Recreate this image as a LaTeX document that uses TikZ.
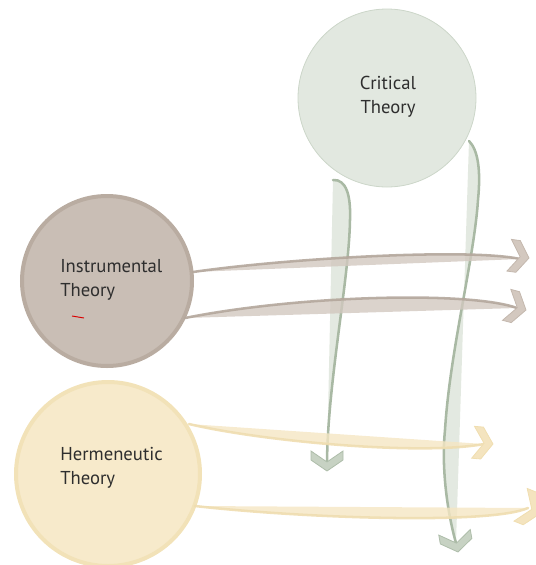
\documentclass[tikz,border=0pt]{standalone}
\usepackage{fontspec}
\setmainfont{PT Sans}
\definecolor{critfill}{HTML}{E2E8E0}
\definecolor{critedge}{HTML}{CCD6C9}
\definecolor{greenband}{HTML}{DCE4D9}
\definecolor{greenline}{HTML}{A9B9A4}
\definecolor{greenhead}{HTML}{C7D2C3}
\definecolor{greenheadedge}{HTML}{AEBDAA}
\definecolor{instfill}{HTML}{C9BEB5}
\definecolor{instedge}{HTML}{B9ACA1}
\definecolor{brownband}{HTML}{D2C8BF}
\definecolor{brownline}{HTML}{B4A79C}
\definecolor{brownhead}{HTML}{D3C8BF}
\definecolor{brownheadedge}{HTML}{C4B8AE}
\definecolor{hermfill}{HTML}{F7EACB}
\definecolor{hermedge}{HTML}{F2E2B8}
\definecolor{yellband}{HTML}{F5E6C3}
\definecolor{yellline}{HTML}{EFDDB0}
\definecolor{yellhead}{HTML}{F4E4BF}
\definecolor{yellheadedge}{HTML}{F0DEB0}
\definecolor{labeltext}{HTML}{2E2E2E}
\begin{document}
\begin{tikzpicture}[x=0.75pt,y=-0.75pt,
  theory/.style={circle,inner sep=0pt,outer sep=0pt},
  lbl/.style={inner sep=0pt,text=labeltext,font=\fontsize{14}{18}\selectfont},
  chev/.pic={\path[pic actions] (0,0) -- (-11,16) -- (-20,16) -- (-9,0) -- (-20,-16) -- (-11,-16) -- cycle;},
  greenchev/.style={fill=greenhead,draw=greenheadedge,line width=0.6pt},
  brownchev/.style={fill=brownhead,draw=brownheadedge,line width=0.6pt},
  yellchev/.style={fill=yellhead,draw=yellheadedge,line width=0.6pt},
  bandfill/.style={fill=#1,fill opacity=0.8},
  bandline/.style={draw=#1,line width=1.9pt,line cap=round},
]
\useasboundingbox (0,0) rectangle (536,565);
\clip (0,0) rectangle (536,565);

% the three theories
\node[theory,minimum size=178*0.75pt,fill=critfill,draw=critedge,line width=0.6pt] (crit) at (387,98) {};
\node[theory,minimum size=170*0.75pt,fill=instfill,draw=instedge,line width=3pt] (instr) at (107,281) {};
\node[theory,minimum size=184*0.75pt,fill=hermfill,draw=hermedge,line width=3pt] (herm) at (108,474) {};

% labels (anchored on the baseline of their last line)
\node[lbl,align=center,anchor=base] (crittxt) at (388,113) {Critical\\Theory};
\node[lbl,align=left,anchor=base west] (instrtxt) at (60,296) {Instrumental\\Theory};
\node[lbl,align=left,anchor=base west] (hermtxt) at (60,484) {Hermeneutic\\Theory};

% small red stroke inside the instrumental circle
\draw[red!85!black,line width=0.7pt] (72,316) -- (84,318);

% arrow ends
\coordinate (g1s) at (333,180);
\coordinate (g1t) at (327,462);
\coordinate (g2s) at (469,141);
\coordinate (g2t) at (456,543);
\coordinate (b1s) at (193,272);
\coordinate (b1t) at (520,259);
\coordinate (b2s) at (185,318);
\coordinate (b2t) at (517,308);
\coordinate (y1s) at (189,424);
\coordinate (y1t) at (484,444);
\coordinate (y2s) at (195,506);
\coordinate (y2t) at (528,508);

% ribbon outlines
\def\gonecurve{(g1s) .. controls (346,179) and (351,195) .. (350,220) .. controls (349,280) and (328,380) .. (g1t)}
\def\gtwocurve{(g2s) .. controls (478,150) and (481,170) .. (478,200) .. controls (474,260) and (450,350) .. (445,430) .. controls (441,470) and (448,515) .. (g2t)}
\def\bonecurve{(b1s) .. controls (290,258) and (470,248) .. (b1t)}
\def\btwocurve{(b2s) .. controls (300,295) and (470,291) .. (b2t)}
\def\yonecurve{(y1s) .. controls (260,441) and (420,456) .. (y1t)}
\def\ytwocurve{(y2s) .. controls (300,518) and (490,525) .. (y2t)}

% critical theory ribbons
\fill[bandfill=greenband] \gonecurve -- cycle;
\draw[bandline=greenline] \gonecurve;
\pic[greenchev,rotate=-90] at (327,471) {chev};
\fill[bandfill=greenband] \gtwocurve -- cycle;
\draw[bandline=greenline] \gtwocurve;
\pic[greenchev,rotate=-80] at (458,552) {chev};

% instrumental theory ribbons
\fill[bandfill=brownband] \bonecurve -- cycle;
\draw[bandline=brownline,opacity=0.9] \bonecurve;
\pic[brownchev,rotate=-8] at (529,258) {chev};
\fill[bandfill=brownband] \btwocurve -- cycle;
\draw[bandline=brownline,opacity=0.9] \btwocurve;
\pic[brownchev,rotate=-15] at (526,310) {chev};

% hermeneutic theory ribbons
\fill[bandfill=yellband] \yonecurve -- cycle;
\draw[bandline=yellline,opacity=0.9] \yonecurve;
\pic[yellchev,rotate=-5] at (493,444) {chev};
\fill[bandfill=yellband] \ytwocurve -- cycle;
\draw[bandline=yellline,opacity=0.9] \ytwocurve;
\pic[yellchev,rotate=-22,scale=1.1] at (541,513) {chev};
\end{tikzpicture}
\end{document}
